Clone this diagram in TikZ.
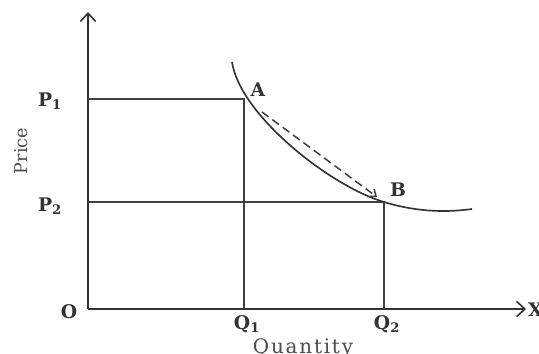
\documentclass[tikz,border=0pt]{standalone}
\usepackage{fontspec}
\setmainfont{DejaVu Serif}
\usetikzlibrary{arrows.meta}

\begin{document}
\begin{tikzpicture}[
  x=0.03cm, y=-0.03cm, font=\fontsize{16}{19}\selectfont\bfseries,
  ax/.style={line width=1.4pt, draw=black!80, -{Straight Barb[length=7pt, width=13pt, line width=1.4pt]}},
  guide/.style={line width=1.2pt, draw=black!75},
  curve/.style={line width=1.4pt, draw=black!80},
  lbl/.style={text=black!80, inner sep=1pt},
  title/.style={text=black!70, inner sep=1pt, font=\fontsize{17}{20}\selectfont}]
  \useasboundingbox (0,0) rectangle (539,353);
  % points
  \coordinate (O) at (88,309);
  \coordinate (ytop) at (88,12);
  \coordinate (xend) at (526,309);
  \coordinate (P1) at (88,99);
  \coordinate (P2) at (88,202);
  \coordinate (A) at (244,99);
  \coordinate (B) at (384,202);
  \coordinate (Q1) at (244,309);
  \coordinate (Q2) at (384,309);
  \coordinate (c0) at (232,62);
  \coordinate (c1) at (472,209);
  \coordinate (d0) at (262,112);
  \coordinate (d1) at (377,197);
  % axes
  \draw[ax] (O) -- (ytop);
  \draw[ax] (O) -- (xend);
  % price and quantity lines
  \draw[guide] (P1) -- (A) -- (Q1);
  \draw[guide] (P2) -- (B) -- (Q2);
  % demand curve
  \draw[curve] (c0) .. controls (240,115) and (330,186) .. (B)
               .. controls (420,213) and (450,212) .. (c1);
  \draw[line width=1.3pt, draw=black!75, dash pattern=on 7pt off 4pt,
        -{Straight Barb[length=5pt, width=8pt]}] (d0) -- (d1);
  % labels
  \node[lbl] (lP1) at (50,101) {P\textsubscript{1}};
  \node[lbl] (lP2) at (50,206) {P\textsubscript{2}};
  \node[lbl] (lO) at (69,312) {O};
  \node[lbl] (lQ1) at (247,324) {Q\textsubscript{1}};
  \node[lbl] (lQ2) at (387,324) {Q\textsubscript{2}};
  \node[lbl] (lA) at (258,90) {A};
  \node[lbl] (lB) at (398,190) {B};
  \node[lbl, anchor=west, inner sep=0pt] (lX) at (528,310) {X};
  \node[title, rotate=90, font=\fontsize{15}{18}\selectfont] (lprice) at (21,151) {Price};
  \node[title, font=\fontsize{17}{20}\addfontfeatures{LetterSpace=9}\selectfont] (lqty) at (303,348) {Quantity};
\end{tikzpicture}
\end{document}
